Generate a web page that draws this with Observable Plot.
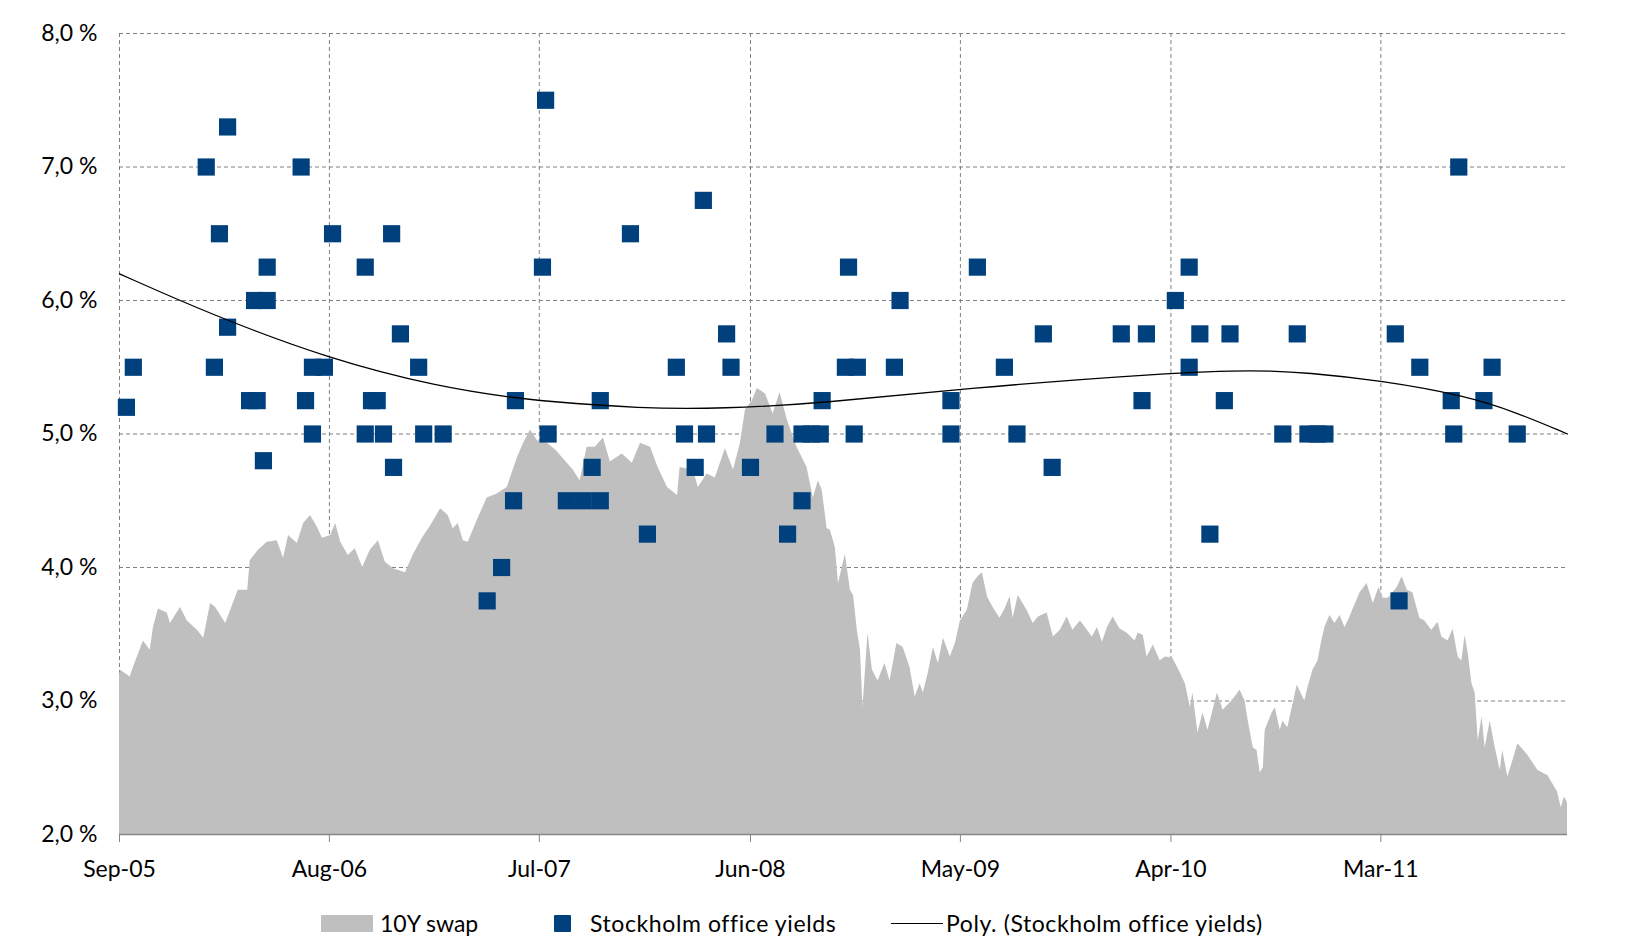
<!DOCTYPE html>
<html><head><meta charset="utf-8">
<script src="https://cdn.jsdelivr.net/npm/d3@7"></script>
<script src="https://cdn.jsdelivr.net/npm/@observablehq/plot@0.6"></script>
<style>
body{margin:0;background:#fff;font-family:Lato,"Open Sans",sans-serif;}
#wrap{position:relative;width:1632px;height:945px;overflow:hidden;}
#legend{position:absolute;left:0;top:896px;width:1632px;height:45px;font-size:23px;color:#000;}
#legend .t{position:absolute;top:12px;line-height:30px;white-space:nowrap;}
#legend .sw{position:absolute;}
</style></head><body><div id="wrap"><div id="chart"></div>
<div id="legend">
<div class="sw" style="left:321px;top:19px;width:52px;height:17px;background:#bfbfbf"></div>
<div class="t" style="left:380px">10Y swap</div>
<div class="sw" style="left:554px;top:19px;width:17px;height:17px;background:#00417d;border-radius:1px"></div>
<div class="t" style="left:590px;letter-spacing:0.6px">Stockholm office yields</div>
<div class="sw" style="left:891px;top:26.5px;width:52px;height:1.4px;background:#000"></div>
<div class="t" style="left:946px;letter-spacing:0.6px">Poly. (Stockholm office yields)</div>
</div></div>
<script>
const swapDates = ["2005-09-01","2005-09-03","2005-09-18","2005-09-23","2005-10-09","2005-10-20","2005-10-25","2005-11-02","2005-11-16","2005-11-21","2005-12-07","2005-12-18","2006-01-03","2006-01-13","2006-01-24","2006-02-01","2006-02-17","2006-03-01","2006-03-09","2006-03-24","2006-03-28","2006-04-10","2006-04-24","2006-05-10","2006-05-20","2006-05-28","2006-06-11","2006-06-21","2006-07-02","2006-07-13","2006-07-21","2006-08-03","2006-08-11","2006-08-19","2006-08-31","2006-09-11","2006-09-23","2006-10-05","2006-10-18","2006-10-29","2006-11-11","2006-11-30","2006-12-13","2006-12-27","2007-01-09","2007-01-25","2007-02-06","2007-02-14","2007-02-22","2007-03-02","2007-03-10","2007-03-24","2007-04-09","2007-04-25","2007-05-11","2007-05-27","2007-06-06","2007-06-17","2007-06-28","2007-07-14","2007-07-27","2007-08-11","2007-08-24","2007-09-04","2007-09-15","2007-09-28","2007-10-11","2007-10-22","2007-11-10","2007-11-26","2007-12-09","2007-12-25","2008-01-06","2008-01-21","2008-02-06","2008-02-10","2008-03-02","2008-03-10","2008-03-24","2008-04-06","2008-04-22","2008-05-05","2008-05-16","2008-05-24","2008-06-04","2008-06-12","2008-06-25","2008-07-07","2008-07-18","2008-07-30","2008-08-14","2008-08-30","2008-09-09","2008-09-17","2008-09-23","2008-10-01","2008-10-06","2008-10-14","2008-10-19","2008-10-30","2008-11-07","2008-11-12","2008-11-18","2008-11-23","2008-11-27","2008-12-05","2008-12-12","2008-12-21","2009-01-01","2009-01-09","2009-01-20","2009-01-30","2009-02-10","2009-02-18","2009-02-26","2009-03-03","2009-03-11","2009-03-19","2009-03-27","2009-04-04","2009-04-15","2009-04-23","2009-05-01","2009-05-12","2009-05-21","2009-05-29","2009-06-05","2009-06-13","2009-06-22","2009-07-03","2009-07-11","2009-07-19","2009-07-24","2009-08-01","2009-08-15","2009-08-25","2009-09-02","2009-09-16","2009-09-26","2009-10-07","2009-10-18","2009-10-27","2009-11-08","2009-11-19","2009-11-27","2009-12-05","2009-12-13","2009-12-21","2009-12-30","2010-01-10","2010-01-21","2010-02-03","2010-02-08","2010-02-16","2010-02-22","2010-03-04","2010-03-15","2010-03-23","2010-04-04","2010-04-16","2010-04-24","2010-05-02","2010-05-06","2010-05-14","2010-05-22","2010-05-30","2010-06-14","2010-06-23","2010-07-07","2010-07-20","2010-07-28","2010-08-02","2010-08-10","2010-08-16","2010-08-21","2010-08-26","2010-08-29","2010-09-09","2010-09-14","2010-09-22","2010-09-26","2010-10-04","2010-10-11","2010-10-19","2010-10-27","2010-10-31","2010-11-05","2010-11-13","2010-11-21","2010-11-27","2010-12-02","2010-12-10","2010-12-18","2010-12-26","2011-01-03","2011-01-11","2011-01-16","2011-01-27","2011-02-07","2011-02-17","2011-02-26","2011-03-05","2011-03-13","2011-03-27","2011-04-04","2011-04-12","2011-04-21","2011-05-02","2011-05-10","2011-05-21","2011-05-31","2011-06-06","2011-06-16","2011-06-24","2011-07-02","2011-07-08","2011-07-13","2011-07-18","2011-07-24","2011-07-29","2011-08-03","2011-08-09","2011-08-14","2011-08-22","2011-08-30","2011-09-07","2011-09-11","2011-09-19","2011-09-27","2011-10-05","2011-10-20","2011-11-06","2011-11-22","2011-12-07","2011-12-13","2011-12-18","2011-12-23"];
const swapValues = [3.20,3.23,3.18,3.25,3.45,3.38,3.55,3.69,3.66,3.58,3.70,3.60,3.53,3.47,3.73,3.70,3.58,3.73,3.83,3.83,4.05,4.13,4.19,4.20,4.07,4.24,4.18,4.33,4.39,4.30,4.22,4.24,4.33,4.19,4.09,4.14,4.00,4.13,4.20,4.04,3.99,3.96,4.10,4.22,4.31,4.44,4.39,4.29,4.33,4.20,4.19,4.35,4.52,4.55,4.60,4.82,4.93,5.03,4.95,4.93,4.88,4.80,4.73,4.65,4.90,4.90,4.97,4.79,4.85,4.78,4.93,4.90,4.75,4.60,4.54,4.75,4.73,4.60,4.70,4.67,4.89,4.73,4.93,5.18,5.25,5.34,5.30,5.15,5.31,5.10,4.90,4.75,4.52,4.65,4.58,4.29,4.28,4.15,3.88,4.10,3.83,3.79,3.53,3.38,2.95,3.51,3.23,3.15,3.28,3.15,3.43,3.40,3.25,3.03,3.13,3.06,3.21,3.40,3.28,3.47,3.33,3.43,3.60,3.68,3.88,3.93,3.96,3.78,3.70,3.62,3.69,3.78,3.62,3.79,3.68,3.58,3.63,3.66,3.48,3.53,3.63,3.53,3.60,3.53,3.48,3.55,3.44,3.55,3.63,3.54,3.51,3.45,3.51,3.49,3.33,3.42,3.30,3.33,3.32,3.21,3.13,2.95,3.06,2.76,2.91,2.78,3.06,2.93,3.00,3.08,3.00,2.85,2.65,2.63,2.46,2.50,2.78,2.91,2.95,2.78,2.85,2.80,2.95,3.12,3.04,3.00,3.10,3.23,3.30,3.45,3.55,3.64,3.58,3.64,3.55,3.63,3.69,3.81,3.88,3.73,3.85,3.77,3.77,3.85,3.93,3.83,3.81,3.62,3.60,3.53,3.59,3.48,3.45,3.54,3.33,3.30,3.49,3.36,3.13,3.06,2.70,2.88,2.65,2.85,2.65,2.48,2.63,2.43,2.55,2.68,2.60,2.48,2.44,2.32,2.20,2.28,2.24];

const yieldDates = ["2005-09-12","2005-09-23","2006-01-17","2006-01-30","2006-02-07","2006-02-20","2006-02-20","2006-03-27","2006-04-04","2006-04-08","2006-04-18","2006-04-24","2006-04-24","2006-06-17","2006-06-24","2006-07-05","2006-07-05","2006-07-24","2006-08-06","2006-09-27","2006-09-27","2006-10-07","2006-10-16","2006-10-26","2006-11-08","2006-11-11","2006-11-22","2006-12-21","2006-12-29","2007-01-29","2007-04-09","2007-05-02","2007-05-24","2007-05-21","2007-07-06","2007-07-11","2007-07-15","2007-08-13","2007-09-09","2007-10-06","2007-09-23","2007-10-06","2007-11-23","2007-12-20","2008-02-04","2008-02-17","2008-03-05","2008-03-18","2008-03-23","2008-04-24","2008-05-01","2008-06-01","2008-07-10","2008-07-30","2008-08-22","2008-08-22","2008-09-06","2008-09-20","2008-09-23","2008-11-04","2008-10-30","2008-11-18","2008-11-13","2009-01-16","2009-01-25","2009-04-16","2009-04-16","2009-05-28","2009-07-10","2009-07-30","2009-09-10","2009-09-24","2010-01-12","2010-02-14","2010-02-21","2010-04-08","2010-04-30","2010-04-30","2010-05-17","2010-06-02","2010-06-25","2010-07-04","2010-09-26","2010-10-19","2010-11-05","2010-11-20","2010-12-02","2011-03-24","2011-03-30","2011-05-02","2011-06-21","2011-06-25","2011-07-03","2011-08-12","2011-08-25","2011-10-04"];
const yieldValues = [5.2,5.5,7.0,5.5,6.5,7.3,5.8,5.25,6.0,5.25,4.8,6.25,6.0,7.0,5.25,5.5,5.0,5.5,6.5,6.25,5.0,5.25,5.25,5.0,6.5,4.75,5.75,5.5,5.0,5.0,3.75,4.0,5.25,4.5,6.25,7.5,5.0,4.5,4.5,4.5,4.75,5.25,6.5,4.25,5.5,5.0,4.75,6.75,5.0,5.75,5.5,4.75,5.0,4.25,4.5,5.0,5.0,5.0,5.25,6.25,5.5,5.5,5.0,5.5,6.0,5.25,5.0,6.25,5.5,5.0,5.75,4.75,5.75,5.25,5.75,6.0,6.25,5.5,5.75,4.25,5.25,5.75,5.0,5.75,5.0,5.0,5.0,5.75,3.75,5.5,5.25,5.0,7.0,5.25,5.5,5.0];

const trendDates = ["2005-09-01","2006-01-22","2006-08-01","2007-01-25","2007-05-24","2007-07-01","2007-12-09","2008-04-19","2008-09-23","2009-05-01","2010-04-01","2010-08-13","2010-11-05","2011-03-01","2011-07-11","2011-10-04","2011-12-23"];
const trendValues = [6.20,5.90,5.56,5.35,5.27,5.25,5.19,5.19,5.23,5.34,5.46,5.48,5.46,5.40,5.29,5.16,5.00];

const xTickDates = ["2005-09-01","2006-08-01","2007-07-01","2008-06-01","2009-05-01","2010-04-01","2011-03-01"];
const xTickLabels = ["Sep-05","Aug-06","Jul-07","Jun-08","May-09","Apr-10","Mar-11"];
const yTicks = [2,3,4,5,6,7,8];

const swap = swapDates.map((d,i)=>({date:new Date(d),value:swapValues[i]}));
const yields = yieldDates.map((d,i)=>({date:new Date(d),value:yieldValues[i]}));
const trend = trendDates.map((d,i)=>({date:new Date(d),value:trendValues[i]}));
const xTicks = xTickDates.map(d=>new Date(d));
const labelOf = new Map(xTicks.map((d,i)=>[+d, xTickLabels[i]]));

const grid = {stroke:"#808080", strokeOpacity:1, strokeWidth:1, strokeDasharray:"4,3"};

const chart = Plot.plot({
  width:1632, height:900,
  marginLeft:119, marginRight:65, marginTop:33, marginBottom:66,
  style:{fontFamily:"Lato, 'Open Sans', sans-serif", fontSize:"23px", color:"#000", background:"#fff", overflow:"visible"},
  x:{type:"utc", domain:[new Date("2005-09-01"), new Date("2011-12-23")]},
  y:{domain:[2,8]},
  marks:[
    Plot.gridY(yTicks, grid),
    Plot.gridX(xTicks, grid),
    Plot.area(swap, {x1:"date", y1:2, y2:"value", fill:"#bfbfbf", curve:"linear"}),
    Plot.ruleY([2], {stroke:"#868686", strokeWidth:1.5}),
    Plot.axisX(xTicks, {tickSize:8, tickPadding:18, stroke:"#868686", fill:"#000", tickFormat:d=>labelOf.get(+d), label:null}),
    Plot.axisY(yTicks, {tickSize:0, tickPadding:22, fill:"#000", tickFormat:d=>d.toFixed(1).replace(".",",")+" %", label:null}),
    Plot.dot(yields, {x:"date", y:"value", symbol:"square", r:9.7, fill:"#00417d", stroke:null}),
    Plot.line(trend, {x:"date", y:"value", curve:"basis", stroke:"#000", strokeWidth:1.3})
  ]
});
document.getElementById("chart").appendChild(chart);
</script>
</body></html>
